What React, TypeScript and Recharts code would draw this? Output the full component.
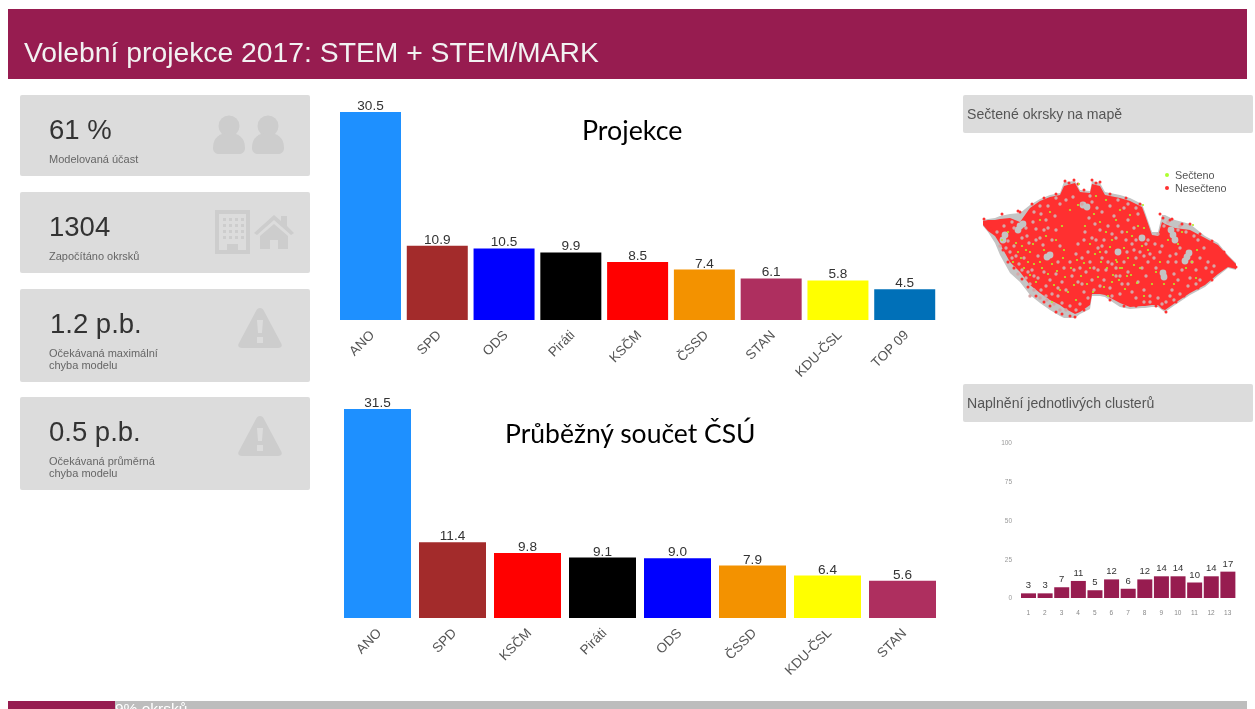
import React from 'react';
import { Area, Bar, BarChart, Cell, ComposedChart, LabelList, Scatter, XAxis, YAxis } from 'recharts';

const projectionParties = ['ANO', 'SPD', 'ODS', 'Piráti', 'KSČM', 'ČSSD', 'STAN', 'KDU-ČSL', 'TOP 09'];
const projectionValues = [30.5, 10.9, 10.5, 9.9, 8.5, 7.4, 6.1, 5.8, 4.5];
const projectionColors = ['#1e90ff', '#a32b2b', '#0000ff', '#000000', '#ff0000', '#f39200', '#ae2f5f', '#ffff00', '#0070b8'];

const countParties = ['ANO', 'SPD', 'KSČM', 'Piráti', 'ODS', 'ČSSD', 'KDU-ČSL', 'STAN'];
const countValues = [31.5, 11.4, 9.8, 9.1, 9.0, 7.9, 6.4, 5.6];
const countColors = ['#1e90ff', '#a32b2b', '#ff0000', '#000000', '#0000ff', '#f39200', '#ffff00', '#ae2f5f'];

const clusterIds = ['1', '2', '3', '4', '5', '6', '7', '8', '9', '10', '11', '12', '13'];
const clusterValues = [3, 3, 7, 11, 5, 12, 6, 12, 14, 14, 10, 14, 17];
const clusterTicks = [0, 25, 50, 75, 100];

// map silhouette
const mapX = [983, 988, 995, 1000, 1010, 1020, 1030, 1040, 1050, 1060, 1064, 1075, 1080, 1090, 1092, 1100, 1105, 1120, 1130, 1142, 1145, 1152, 1158, 1162, 1165, 1175, 1190, 1205, 1218, 1228, 1236];
const greyTop = [220, 219, 218, 216, 214, 213, 205, 199, 195, 193, 182, 181, 190, 191, 181, 183, 192, 195, 198, 204, 212, 232, 232, 215, 215, 220, 224, 236, 243, 255, 263];
const greyBottom = [226, 232, 243, 255, 273, 282, 295, 303, 310, 316, 318, 318, 314, 309, 296, 296, 297, 307, 309, 308, 308, 307, 307, 310, 312, 305, 295, 287, 276, 268, 270];
const redTop = [221, 220, 220, 219, 218, 222, 208, 201, 197, 195, 186, 183, 192, 193, 184, 186, 195, 198, 201, 207, 215, 235, 236, 222, 224, 228, 230, 238, 245, 256, 264];
const redBottom = [225, 231, 236, 244, 262, 272, 285, 293, 300, 305, 308, 314, 312, 305, 294, 294, 295, 303, 307, 306, 306, 305, 305, 309, 310, 303, 293, 285, 274, 267, 269];

// the clearly grey patches
const mapPatches = [
  [1020, 226], [1018, 230], [1023, 224], [1047, 257], [1050, 255], [1173, 235], [1175, 240], [1171, 230], [1187, 257], [1185, 261],
  [1189, 253], [1163, 273], [1164, 277], [1083, 205], [1087, 207], [1005, 235], [1003, 240], [1118, 252], [1142, 238],
];

const mapSpeckle = [
  [1012, 222], [1008, 241], [1014, 246], [1010, 252], [1016, 256], [1006, 248], [1022, 238], [1027, 236], [1033, 222], [1036, 229],
  [1041, 214], [1046, 220], [1043, 245], [1040, 238], [1052, 240], [1048, 228], [1055, 216], [1066, 200], [1073, 197], [1082, 204],
  [1092, 202], [1097, 208], [1089, 218], [1095, 224], [1085, 232], [1092, 238], [1100, 230], [1104, 240], [1098, 248], [1106, 252],
  [1088, 252], [1082, 258], [1076, 254], [1070, 262], [1064, 268], [1058, 262], [1056, 274], [1062, 282], [1050, 280], [1044, 272],
  [1038, 278], [1032, 270], [1026, 278], [1041, 290], [1052, 294], [1058, 296], [1066, 310], [1062, 303], [1080, 304], [1084, 292],
  [1078, 282], [1086, 272], [1092, 280], [1098, 270], [1104, 280], [1110, 288], [1116, 276], [1112, 264], [1124, 262], [1128, 272],
  [1122, 284], [1132, 292], [1138, 282], [1112, 234], [1118, 226], [1114, 216], [1124, 208], [1128, 220], [1134, 228], [1138, 214],
  [1132, 244], [1126, 240], [1140, 252], [1146, 244], [1148, 262], [1142, 268], [1136, 258], [1150, 296], [1158, 298], [1166, 302],
  [1172, 290], [1178, 230], [1192, 262], [1182, 270], [1178, 280], [1190, 278], [1196, 270], [1198, 240], [1204, 248], [1208, 262],
  [1212, 272], [1200, 280], [1155, 244], [1160, 252], [1150, 254], [1180, 248], [1170, 256], [1176, 262], [1156, 268], [1170, 296],
  [1004, 226], [1014, 228], [1026, 228], [1029, 243], [1036, 240], [1012, 258], [1019, 264], [1024, 258], [1030, 284], [1034, 290],
  [1040, 298], [1046, 286], [1047, 300], [1054, 304], [1060, 310], [1058, 288], [1066, 290], [1072, 276], [1074, 270], [1080, 268],
  [1090, 262], [1094, 268], [1102, 258], [1108, 262], [1116, 268], [1120, 276], [1127, 252], [1134, 250], [1144, 256], [1154, 258],
  [1148, 240], [1136, 240], [1122, 232], [1116, 238], [1108, 226], [1102, 212], [1110, 206], [1118, 200], [1128, 204], [1136, 208],
  [1090, 196], [1060, 204], [1056, 198], [1048, 206], [1040, 206], [1034, 212], [1044, 230], [1056, 230], [1060, 246], [1078, 244],
  [1084, 240], [1096, 240], [1102, 246], [1106, 270], [1112, 296], [1120, 294], [1128, 284], [1136, 298], [1144, 290], [1146, 276],
  [1094, 290], [1100, 286], [1088, 298], [1082, 284], [1070, 306], [1076, 310], [1046, 296], [1038, 256], [1034, 276], [1028, 272],
  [1022, 270], [1018, 274], [1030, 296], [1014, 268], [1008, 262], [1000, 246], [997, 232], [1158, 234], [1164, 226], [1168, 222],
  [1180, 226], [1186, 232], [1194, 236], [1200, 258], [1206, 268], [1214, 266], [1196, 284], [1188, 286], [1180, 294], [1174, 300],
  [1162, 304], [1150, 302], [1144, 302], [1174, 274], [1168, 262], [1176, 254], [1162, 246],
];

const mapCounted = [
  [1002, 240], [1008, 232], [1016, 243], [1013, 262], [1018, 252], [1021, 258], [1024, 268], [1028, 262], [1033, 244], [1030, 275],
  [1036, 282], [1040, 262], [1044, 250], [1042, 268], [1048, 274], [1052, 264], [1054, 285], [1057, 271], [1063, 258], [1065, 277],
  [1068, 292], [1071, 268], [1074, 285], [1077, 260], [1081, 276], [1084, 263], [1087, 284], [1090, 268], [1093, 292], [1095, 254],
  [1098, 277], [1101, 262], [1104, 287], [1107, 268], [1110, 247], [1113, 275], [1116, 260], [1119, 280], [1122, 268], [1125, 289],
  [1128, 258], [1131, 275], [1134, 265], [1137, 283], [1140, 268], [1142, 246], [1117, 262], [1120, 268], [1056, 240], [1062, 226],
  [1070, 210], [1078, 205], [1085, 226], [1090, 244], [1094, 214], [1100, 222], [1106, 232], [1112, 240], [1116, 220], [1120, 210],
  [1127, 232], [1132, 236], [1130, 215], [1138, 226], [1144, 228], [1106, 200], [1096, 196], [1079, 184], [1143, 205], [1050, 212],
  [1040, 220], [1046, 236], [1148, 250], [1156, 272], [1160, 262], [1168, 240], [1178, 244], [1182, 232], [1193, 225], [1192, 262],
  [1197, 250], [1152, 284], [1164, 284], [1174, 284], [1186, 268], [1196, 278], [1144, 296], [1108, 296], [1076, 300], [1060, 290],
  [1030, 252], [1034, 264], [1026, 250], [1022, 246], [1064, 250], [1100, 252], [1124, 248], [1112, 282], [1127, 276], [1052, 302],
];

const mapEdgeDots = [
  [1065, 181], [1069, 183], [1074, 180], [1078, 184], [1092, 180], [1096, 183], [1100, 182], [984, 219], [987, 224], [991, 229],
  [1002, 214], [1018, 211], [1160, 214], [1163, 218], [1172, 219], [1190, 224], [1232, 263], [1236, 267], [1166, 312], [1075, 317],
  [1003, 250], [1008, 262], [1014, 268], [1022, 279], [1028, 287], [1036, 296], [1044, 302], [1050, 306], [1056, 312], [1062, 314],
  [1070, 316], [1084, 310], [1110, 300], [1124, 306], [1136, 306], [1156, 306], [1176, 302], [1184, 296], [1198, 288], [1212, 280],
  [1020, 212], [1032, 204], [1044, 198], [1056, 194], [1084, 190], [1110, 194], [1126, 198], [1140, 204], [1170, 220], [1182, 224],
  [1200, 234], [1212, 241], [1224, 252],
];

const mapColumns = mapX.map((x, i) => ({ x, grey: [greyTop[i], greyBottom[i]], red: [redTop[i], redBottom[i]] }));
const toPoints = (pairs: number[][]) => pairs.map(([x, y]) => ({ x, y }));

const projectionData = projectionParties.map((party, i) => ({ party, value: projectionValues[i] }));
const countData = countParties.map((party, i) => ({ party, value: countValues[i] }));
const clusterData = clusterIds.map((id, i) => ({ id, value: clusterValues[i] }));

const SANS = '"Liberation Sans", Arial, sans-serif';
const MAROON = '#971c50';
const CARD = '#dcdcdc';
const ICON = '#cdcdcd';

const Dot = (fill: string, r: number) => (props: any) => <circle cx={props.cx} cy={props.cy} r={r} fill={fill} />;

const PeopleIcon = () => (
  <svg width="74" height="42" viewBox="0 0 74 42" style={{ position: 'absolute', left: 192, top: 20 }}>
    {[0, 39].map(x => (
      <g key={x} fill={ICON}>
        <circle cx={x + 17} cy={11} r={10.5} />
        <path d={`M${x + 1} 33 C${x + 1} 22 ${x + 8} 18 ${x + 17} 18 C${x + 26} 18 ${x + 33} 22 ${x + 33} 33 C${x + 33} 37 ${x + 30} 39 ${x + 27} 39 L${x + 7} 39 C${x + 4} 39 ${x + 1} 37 ${x + 1} 33 Z`} />
      </g>
    ))}
  </svg>
);

const BuildingIcon = () => (
  <svg width="84" height="48" viewBox="0 0 84 48" style={{ position: 'absolute', left: 193, top: 17 }}>
    <path fillRule="evenodd" fill={ICON} d="M2 1 H37 V45 H2 Z M6 5 V41 H14 V35 H25 V41 H33 V5 Z" />
    {[10, 16, 22, 28].map(x => [9, 15, 21, 27].map(y => (
      <rect key={`${x}-${y}`} x={x} y={y} width="3" height="3" fill={ICON} />
    )))}
    <path fill={ICON} d="M41 24 L61 6 L68 12 V7 L74 7 V17 L81 24 L78 26 L61 11 L44 26 Z M47 27 L61 15 L75 27 V40 H65 V31 H57 V40 H47 Z" />
  </svg>
);

const WarningIcon = () => (
  <svg width="46" height="42" viewBox="0 0 46 42" style={{ position: 'absolute', left: 217, top: 18 }}>
    <path fill={ICON} fillRule="evenodd" d="M23 1 C25 1 26 2 27 4 L44 36 C46 39 44 41 41 41 H5 C2 41 0 39 2 36 L19 4 C20 2 21 1 23 1 Z M20 13 L21 26 H25 L26 13 Z M20 30 V36 H26 V30 Z" />
  </svg>
);

const StatCard = ({ top, height, value, label, icon, valueLeft = 29 }: any) => (
  <div style={{ position: 'absolute', left: 20, top, width: 290, height, background: CARD, borderRadius: 2 }}>
    <div style={{ position: 'absolute', left: valueLeft, top: 18, fontSize: 27.5, lineHeight: '33px', color: '#333' }}>{value}</div>
    <div style={{ position: 'absolute', left: 29, top: 58, fontSize: 11, lineHeight: '12px', color: '#666', whiteSpace: 'pre-line' }}>{label}</div>
    {icon}
  </div>
);

const PanelTitle = ({ top, text }: any) => (
  <div style={{ position: 'absolute', left: 963, top, width: 290, height: 38, background: CARD, borderRadius: 2, fontSize: 14.1, lineHeight: '38px', color: '#555', paddingLeft: 4, boxSizing: 'border-box' }}>{text}</div>
);

const PartyChart = ({ data, colors, left, top, width, height, plot, max, barSize }: any) => (
  <div style={{ position: 'absolute', left, top }}>
    <BarChart width={width} height={height} data={data} margin={{ top: 14, right: 0, bottom: 0, left: 0 }} barCategoryGap={0}>
      <XAxis
        dataKey="party"
        interval={0}
        height={height - plot - 14}
        axisLine={false}
        tickLine={false}
        angle={-45}
        textAnchor="end"
        dx={-2}
        dy={1}
        tick={{ fontSize: 13.5, fill: '#555', fontFamily: SANS }}
      />
      <YAxis hide domain={[0, max]} />
      <Bar dataKey="value" barSize={barSize} isAnimationActive={false}>
        {data.map((d: any, i: number) => <Cell key={d.party} fill={colors[i]} />)}
        <LabelList dataKey="value" position="top" offset={2} formatter={(v: any) => Number(v).toFixed(1)} style={{ fontSize: 13.6, fill: '#333', fontFamily: SANS }} />
      </Bar>
    </BarChart>
  </div>
);

export default function App() {
  return (
    <div style={{ position: 'absolute', left: 0, top: 0, width: 1255, height: 709, overflow: 'hidden', background: '#fff', fontFamily: SANS, filter: 'blur(0.35px)' }}>
      <div style={{ position: 'absolute', left: 8, top: 9, width: 1239, height: 70, background: MAROON, color: '#f2f2f2', fontSize: 28.3, lineHeight: '86px', paddingLeft: 16, boxSizing: 'border-box' }}>
        Volební projekce 2017: STEM + STEM/MARK
      </div>

      <StatCard top={95} height={81} value="61 %" label="Modelovaná účast" icon={<PeopleIcon />} />
      <StatCard top={192} height={81} value="1304" label="Započítáno okrsků" icon={<BuildingIcon />} />
      <StatCard top={289} height={93} value="1.2 p.b." label={'Očekávaná maximální\nchyba modelu'} icon={<WarningIcon />} valueLeft={30} />
      <StatCard top={397} height={93} value="0.5 p.b." label={'Očekávaná průměrná\nchyba modelu'} icon={<WarningIcon />} />

      <PartyChart data={projectionData} colors={projectionColors} left={337} top={86} width={601} height={304} plot={220} max={32.26} barSize={61} />
      <PartyChart data={countData} colors={countColors} left={340} top={382} width={600} height={304} plot={222} max={33.46} barSize={67} />

      <div style={{ position: 'absolute', left: 582, top: 114, fontFamily: 'Lato, sans-serif', fontSize: 26.8, lineHeight: '32px', color: '#000' }}>Projekce</div>
      <div style={{ position: 'absolute', left: 505, top: 417, fontFamily: 'Lato, sans-serif', fontSize: 26.5, lineHeight: '32px', color: '#000' }}>Průběžný součet ČSÚ</div>

      <PanelTitle top={95} text="Sečtené okrsky na mapě" />
      <div style={{ position: 'absolute', left: 975, top: 175, filter: 'blur(0.5px)' }}>
        <ComposedChart width={270} height={150} data={mapColumns} margin={{ top: 0, right: 0, bottom: 0, left: 0 }}>
          <XAxis hide type="number" dataKey="x" domain={[975, 1245]} />
          <YAxis hide reversed type="number" dataKey="y" domain={[175, 325]} />
          <Area type="linear" dataKey="grey" stroke="none" fill="#c4c4c4" fillOpacity={1} dot={false} activeDot={false} isAnimationActive={false} />
          <Area type="linear" dataKey="red" stroke="none" fill="#ff3030" fillOpacity={1} dot={false} activeDot={false} isAnimationActive={false} />
          <Scatter data={toPoints(mapPatches)} dataKey="y" shape={Dot('#c4c4c4', 3.4)} isAnimationActive={false} />
          <Scatter data={toPoints(mapSpeckle)} dataKey="y" shape={Dot('#d6a6a6', 1.7)} isAnimationActive={false} />
          <Scatter data={toPoints(mapEdgeDots)} dataKey="y" shape={Dot('#ff3030', 1.5)} isAnimationActive={false} />
          <Scatter data={toPoints(mapCounted)} dataKey="y" shape={Dot('#b4ec2c', 1.1)} isAnimationActive={false} />
        </ComposedChart>
      </div>
      <div style={{ position: 'absolute', left: 1165, top: 173, width: 4, height: 4, borderRadius: 2, background: '#adff2f' }} />
      <div style={{ position: 'absolute', left: 1175, top: 169, fontSize: 10.8, lineHeight: '12px', color: '#555' }}>Sečteno</div>
      <div style={{ position: 'absolute', left: 1165, top: 186, width: 4, height: 4, borderRadius: 2, background: '#ff3030' }} />
      <div style={{ position: 'absolute', left: 1175, top: 182, fontSize: 10.8, lineHeight: '12px', color: '#555' }}>Nesečteno</div>

      <PanelTitle top={384} text="Naplnění jednotlivých clusterů" />
      <div style={{ position: 'absolute', left: 1000, top: 430 }}>
        <BarChart width={236} height={192} data={clusterData} margin={{ top: 13, right: 0, bottom: 0, left: 0 }} barCategoryGap={0}>
          <XAxis dataKey="id" interval={0} height={24} axisLine={false} tickLine={false} tickMargin={6} tick={{ fontSize: 6.5, fill: '#888', fontFamily: SANS }} />
          <YAxis width={20} domain={[0, 100]} ticks={clusterTicks} axisLine={false} tickLine={false} tickMargin={2} tick={{ fontSize: 6.5, fill: '#999', fontFamily: SANS }} />
          <Bar dataKey="value" fill={MAROON} barSize={15} isAnimationActive={false}>
            <LabelList dataKey="value" position="top" offset={5} style={{ fontSize: 9.5, fill: '#333', fontFamily: SANS }} />
          </Bar>
        </BarChart>
      </div>

      <div style={{ position: 'absolute', left: 8, top: 701, width: 1239, height: 8, background: '#bdbdbd', overflow: 'hidden' }}>
        <div style={{ position: 'absolute', left: 0, top: 0, width: 107, height: 8, background: MAROON }} />
        <div style={{ position: 'absolute', left: 107, top: 0, fontSize: 15.5, lineHeight: '16px', color: '#fff', whiteSpace: 'nowrap' }}>9% okrsků</div>
      </div>
    </div>
  );
}
